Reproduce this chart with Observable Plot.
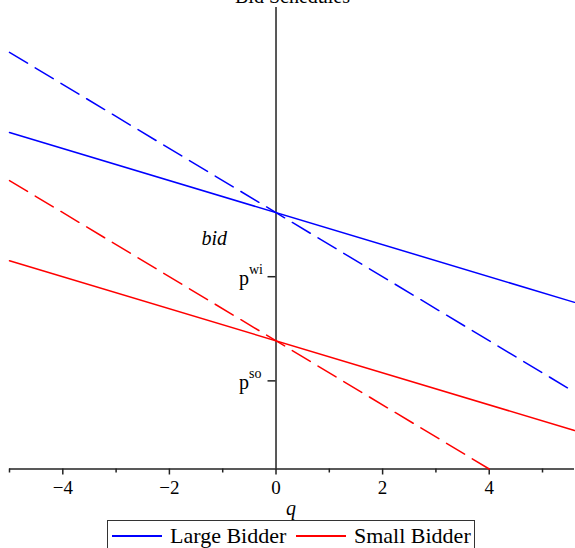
<!DOCTYPE html>
<html>
<head>
<meta charset="utf-8">
<script src="https://cdn.jsdelivr.net/npm/d3@7"></script>
<script src="https://cdn.jsdelivr.net/npm/@observablehq/plot@0.6"></script>
<style>
  html, body { margin: 0; padding: 0; background: #fff; overflow: hidden; }
  #wrap { position: relative; width: 575px; height: 548px; font-family: "Liberation Serif", "Times New Roman", serif; }
  #title { position: absolute; top: -14px; left: 0; width: 585px; text-align: center; font-size: 20px; line-height: 20px; color: #000; }
  #legend { position: absolute; left: 107px; top: 520px; width: 368px; height: 40px; border: 1.5px solid #333; box-sizing: border-box; font-size: 22px; line-height: 24px; white-space: nowrap; }
  .item { position: absolute; top: 3px; }
  .swatch { position: absolute; top: 14px; width: 50px; height: 1.5px; }
  #chart { position: absolute; left: 0; top: 0; }
  #chart text { font-family: "Liberation Serif", "Times New Roman", serif; font-variant: normal; }
</style>
</head>
<body>
<div id="wrap">
  <div id="chart"></div>
  <div id="title">Bid Schedules</div>
  <div id="legend"></div>
</div>
<script>
// Quantity grid at the ends of each schedule
const qEnds = [-5, 5.6];
const qSmallCompetitive = [-5, 4];

// Bid schedules (price at each end of the quantity range)
const largeBid = [10.5, 5.2];
const largeCompetitive = [13, 2.4];
const smallBid = [6.5, 1.2];
const smallCompetitive = [9, 0];

// Named price levels on the vertical axis
const priceLevels = [6, 2.75];
const priceBase = ["p", "p"];
const priceSup = ["wi", "so"];

// Series names and colours
const seriesNames = ["Large Bidder", "Small Bidder"];
const seriesColors = ["#0000ff", "#ff0000"];

const xMajor = [-4, -2, 0, 2, 4];
const xMinor = [-5, -3, -1, 1, 3, 5];

const toPoints = (qs, ps) => qs.map((q, i) => ({q, p: ps[i]}));
const levels = priceLevels.map((v, i) => ({v, base: priceBase[i], sup: priceSup[i]}));
const serif = "'Liberation Serif', 'Times New Roman', serif";

const chart = Plot.plot({
  width: 575,
  height: 520,
  marginLeft: 9,
  marginRight: 1,
  marginTop: 7,
  marginBottom: 51.5,
  x: {domain: [-5, 5.6]},
  y: {domain: [0, 14.4]},
  style: {fontFamily: serif, fontSize: "19px", background: "transparent", overflow: "visible", color: "#000"},
  marks: [
    // axes through the origin
    Plot.ruleY([0], {stroke: "#222", strokeWidth: 1.5}),
    Plot.ruleX([0], {stroke: "#222", strokeWidth: 1.5}),
    Plot.axisX({ticks: xMajor, tickSize: 6, tickPadding: 5, label: null, stroke: "#222", strokeWidth: 1.5, fontFamily: serif}),
    Plot.axisX({ticks: xMinor, tickSize: 4, tickFormat: () => "", label: null, stroke: "#222", strokeWidth: 1.5}),
    Plot.axisY({ticks: [], label: null}),
    // ticks for the named price levels
    Plot.ruleY(levels, {y: "v", x1: -0.15, x2: 0, stroke: "#222", strokeWidth: 1.5}),
    Plot.text(levels, {x: 0, y: "v", text: "base", textAnchor: "end", dx: -27, dy: 2, fontSize: 20}),
    Plot.text(levels, {x: 0, y: "v", text: "sup", textAnchor: "start", dx: -27, dy: -7, fontSize: 14}),
    // axis titles
    Plot.text(["bid"], {x: -1.16, y: 7.2, text: d => d, fontStyle: "italic", fontSize: 20}),
    Plot.text(["q"], {frameAnchor: "bottom", dx: -1, dy: 46, text: d => d, fontStyle: "italic", fontSize: 20}),
    // bid schedules
    Plot.line(toPoints(qEnds, largeCompetitive), {x: "q", y: "p", stroke: seriesColors[0], strokeWidth: 1.5, strokeDasharray: "21,9"}),
    Plot.line(toPoints(qSmallCompetitive, smallCompetitive), {x: "q", y: "p", stroke: seriesColors[1], strokeWidth: 1.5, strokeDasharray: "21,9"}),
    Plot.line(toPoints(qEnds, largeBid), {x: "q", y: "p", stroke: seriesColors[0], strokeWidth: 1.5}),
    Plot.line(toPoints(qEnds, smallBid), {x: "q", y: "p", stroke: seriesColors[1], strokeWidth: 1.5})
  ]
});
document.getElementById("chart").append(chart);

// legend below the plot
const legend = d3.select("#legend");
const offsets = [[4, 62], [188, 246]];
seriesNames.forEach((name, i) => {
  legend.append("div").attr("class", "swatch")
    .style("left", offsets[i][0] + "px").style("background", seriesColors[i]);
  legend.append("div").attr("class", "item")
    .style("left", offsets[i][1] + "px").text(name);
});
</script>
</body>
</html>
